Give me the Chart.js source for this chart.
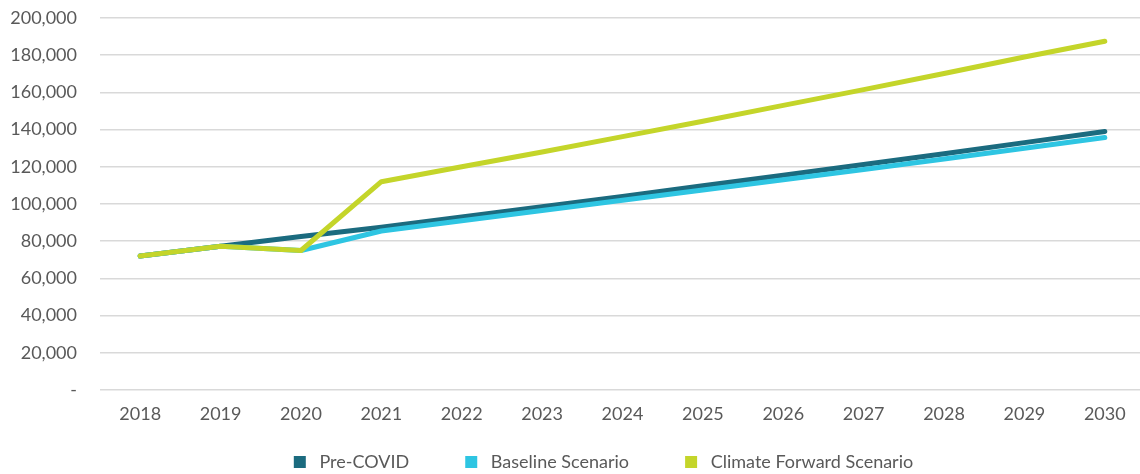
<!DOCTYPE html>
<html>
<head>
<meta charset="utf-8">
<script src="https://cdn.jsdelivr.net/npm/chart.js@4"></script>
<style>
  html, body { margin: 0; padding: 0; background: #fff; overflow: hidden; }
  #wrap { width: 1145px; height: 481px; }
</style>
</head>
<body>
<div id="wrap"><canvas id="myChart"></canvas></div>
<script>
var years = ['2018', '2019', '2020', '2021', '2022', '2023', '2024', '2025', '2026', '2027', '2028', '2029', '2030'];
var preCovid = [72000, 77300, 82500, 87500, 93000, 98500, 104000, 109800, 115500, 121200, 127000, 133000, 139000];
var baseline = [72000, 77300, 75000, 85500, 91000, 96500, 102000, 107500, 113000, 118500, 124200, 130000, 135700];
var climateForward = [72000, 77300, 75000, 112000, 120000, 128000, 136200, 144500, 153000, 161500, 170200, 179000, 187500];

var fontFamily = "Lato, 'Open Sans', sans-serif";
var textColor = '#595959';
var lead = '\u00a0';
var trail = '\u00a0\u00a0\u00a0\u00a0\u00a0\u00a0\u00a0\u00a0\u00a0\u00a0';

function makeSet(label, data, color) {
  return {
    label: label,
    data: data,
    borderColor: color,
    backgroundColor: color,
    borderWidth: 5,
    pointRadius: 0,
    borderCapStyle: 'round',
    borderJoinStyle: 'round',
    tension: 0
  };
}

// nudge the legend row to the right, like in the original
var legendShift = {
  id: 'legendShift',
  afterLayout: function (chart) {
    chart.legend.left += 31;
    chart.legend.right += 31;
  }
};

var ctx = document.getElementById('myChart');
var myChart = new Chart(ctx, {
  type: 'line',
  data: {
    labels: years,
    datasets: [
      makeSet('Climate Forward Scenario', climateForward, '#c4d52a'),
      makeSet('Baseline Scenario', baseline, '#2ec5e2'),
      makeSet('Pre-COVID', preCovid, '#1b6b7f')
    ]
  },
  plugins: [legendShift],
  options: {
    responsive: true,
    maintainAspectRatio: false,
    animation: false,
    layout: { padding: 0 },
    plugins: {
      tooltip: { enabled: false },
      legend: {
        position: 'bottom',
        labels: {
          boxWidth: 12,
          boxHeight: 12,
          padding: 10,
          color: textColor,
          font: { family: fontFamily, size: 18 },
          generateLabels: function (chart) {
            var ds = chart.data.datasets;
            var out = [];
            for (var i = ds.length - 1; i >= 0; i--) {
              out.push({
                text: lead + ds[i].label + (i > 0 ? trail : ''),
                fillStyle: ds[i].borderColor,
                strokeStyle: ds[i].borderColor,
                lineWidth: 0,
                fontColor: textColor,
                datasetIndex: i
              });
            }
            return out;
          }
        }
      }
    },
    scales: {
      x: {
        offset: true,
        grid: { display: false },
        border: { display: false },
        ticks: {
          color: textColor,
          padding: 5,
          font: { family: fontFamily, size: 18 }
        },
        afterFit: function (scale) {
          scale.height = 53;
        }
      },
      y: {
        min: 0,
        max: 200000,
        grid: { color: '#d9d9d9', lineWidth: 1.5, drawTicks: false },
        border: { display: false },
        ticks: {
          stepSize: 20000,
          padding: 23,
          color: textColor,
          font: { family: fontFamily, size: 18 },
          callback: function (v) {
            if (v === 0) return '-';
            return v.toLocaleString('en-US');
          }
        },
        afterFit: function (scale) {
          scale.width = 100;
          scale.paddingTop = 18;
          scale.paddingBottom = 0;
        }
      }
    }
  }
});
</script>
</body>
</html>
